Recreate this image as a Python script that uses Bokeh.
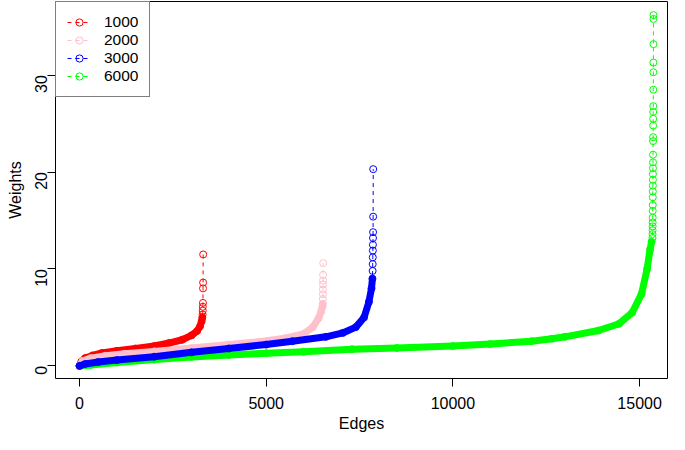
import math
from bokeh.plotting import figure
from bokeh.models import Range1d, FixedTicker, Legend, LegendItem
from bokeh.embed import file_html
from bokeh.resources import INLINE

# ---- data (sorted edge weights) ----
series_labels = ["1000", "2000", "3000", "6000"]
series_colors = ["#FF0000", "#FFC0CB", "#0000FF", "#00FF00"]

red_edges = [0, 50, 150, 350, 600, 1000, 1500, 2000, 2400, 2750, 3000, 3150, 3230, 3270, 3290]
red_weights = [0.0, 0.45, 0.8, 1.08, 1.33, 1.56, 1.79, 2.05, 2.36, 2.7, 3.15, 3.6, 4.1, 4.6, 5.0]
red_tail_edges = [3296, 3300, 3303, 3306, 3308, 3310, 3312]
red_tail_weights = [5.3, 5.7, 6.1, 6.5, 8.0, 8.6, 11.5]

pink_edges = [0, 80, 300, 700, 1200, 2000, 3000, 4000, 4800, 5500, 6000, 6250, 6400, 6470, 6505, 6515]
pink_weights = [0.0, 0.5, 0.8, 1.05, 1.25, 1.5, 1.85, 2.2, 2.5, 2.85, 3.3, 4.0, 4.9, 5.6, 6.1, 6.4]
pink_tail_edges = [6518, 6519, 6520, 6521, 6522, 6523, 6526]
pink_tail_weights = [6.9, 7.4, 7.9, 8.4, 8.8, 9.4, 10.6]

blue_edges = [0, 150, 500, 1000, 2000, 3000, 4000, 5000, 5700, 6600, 7050, 7400, 7620, 7750, 7820, 7845]
blue_weights = [0.0, 0.2, 0.4, 0.6, 0.95, 1.4, 1.8, 2.2, 2.55, 3.0, 3.4, 4.0, 5.0, 6.6, 8.0, 9.0]
blue_tail_edges = [7850, 7852, 7854, 7856, 7858, 7860, 7862, 7864, 7866]
blue_tail_weights = [9.8, 10.5, 11.2, 11.9, 12.5, 13.2, 13.8, 15.4, 20.3]

green_edges = [0, 300, 1000, 2000, 3000, 4000, 5000, 6000, 7300, 8500, 10000, 11000, 12100,
               12650, 13000, 13900, 14450, 14800, 15050, 15200, 15280, 15320]
green_weights = [0.0, 0.1, 0.35, 0.65, 0.92, 1.12, 1.3, 1.45, 1.72, 1.85, 2.05, 2.25, 2.55,
                 2.8, 3.0, 3.65, 4.35, 5.5, 7.4, 10.0, 12.0, 12.8]
green_tail_edges = list(range(15345, 15373))
green_tail_weights = [13.2, 13.6, 14.0, 14.4, 14.8, 15.3, 16.0, 16.6, 17.4, 18.0, 18.6, 19.2,
                      19.8, 20.4, 21.0, 21.8, 23.2, 23.6, 24.8, 25.5, 26.2, 26.8, 28.5, 30.3,
                      31.3, 33.2, 35.8, 36.2]

x_ticks = [0, 5000, 10000, 15000]
y_ticks = [0, 10, 20, 30]

FONT = "Liberation Sans"

p = figure(width=669, height=434, output_backend="svg", toolbar_location=None,
           x_range=Range1d(-643, 15747), y_range=Range1d(-1.3, 37.6),
           min_border_left=55, min_border_right=2, min_border_top=1, min_border_bottom=40,
           x_axis_label="Edges", y_axis_label="Weights")
p.grid.visible = False
p.outline_line_color = "black"
p.outline_line_width = 1
p.background_fill_color = "white"
p.border_fill_color = "white"

for ax in (p.xaxis[0], p.yaxis[0]):
    ax.axis_line_color = None
    ax.major_tick_in = 0
    ax.major_tick_out = 8
    ax.major_tick_line_color = "black"
    ax.minor_tick_line_color = None
    ax.major_label_text_font = FONT
    ax.major_label_text_font_size = "16px"
    ax.major_label_text_color = "black"
    ax.axis_label_text_font = FONT
    ax.axis_label_text_font_size = "16px"
    ax.axis_label_text_font_style = "normal"
    ax.axis_label_text_color = "black"

p.xaxis.ticker = FixedTicker(ticks=x_ticks)
p.yaxis.ticker = FixedTicker(ticks=y_ticks)
p.yaxis.major_label_orientation = math.pi / 2
p.xaxis.major_label_standoff = 10
p.xaxis.axis_label_standoff = 3
p.yaxis.major_label_standoff = 6
p.yaxis.axis_label_standoff = 3

data = {
    "1000": (red_edges, red_weights, red_tail_edges, red_tail_weights),
    "2000": (pink_edges, pink_weights, pink_tail_edges, pink_tail_weights),
    "3000": (blue_edges, blue_weights, blue_tail_edges, blue_tail_weights),
    "6000": (green_edges, green_weights, green_tail_edges, green_tail_weights),
}
colors = dict(zip(series_labels, series_colors))

draw_order = ["6000", "1000", "2000", "3000"]
legend_renderers = {}
for lab in draw_order:
    ex, wy, tx, ty = data[lab]
    c = colors[lab]
    # dense band of overlapping circles
    p.line(ex, wy, line_width=7, line_color=c, line_cap="round", line_join="round")
    allx = ex + tx
    ally = wy + ty
    dash = p.line(allx, ally, line_width=1, line_color=c, line_dash="4 4")
    circ = p.scatter(allx, ally, marker="circle", size=7, fill_color=None,
                     line_color=c, line_width=1)
    legend_renderers[lab] = [dash, circ]

legend = Legend(items=[LegendItem(label=lab, renderers=legend_renderers[lab]) for lab in series_labels],
                location="top_left", margin=0, padding=11, spacing=0,
                glyph_width=24, glyph_height=18, label_height=18, label_standoff=13,
                border_line_color="black", border_line_width=1,
                background_fill_color="white", background_fill_alpha=1,
                label_text_font=FONT, label_text_font_size="15.5px", label_text_color="black")
p.add_layout(legend)

open("out.html", "w").write(file_html(p, INLINE))
